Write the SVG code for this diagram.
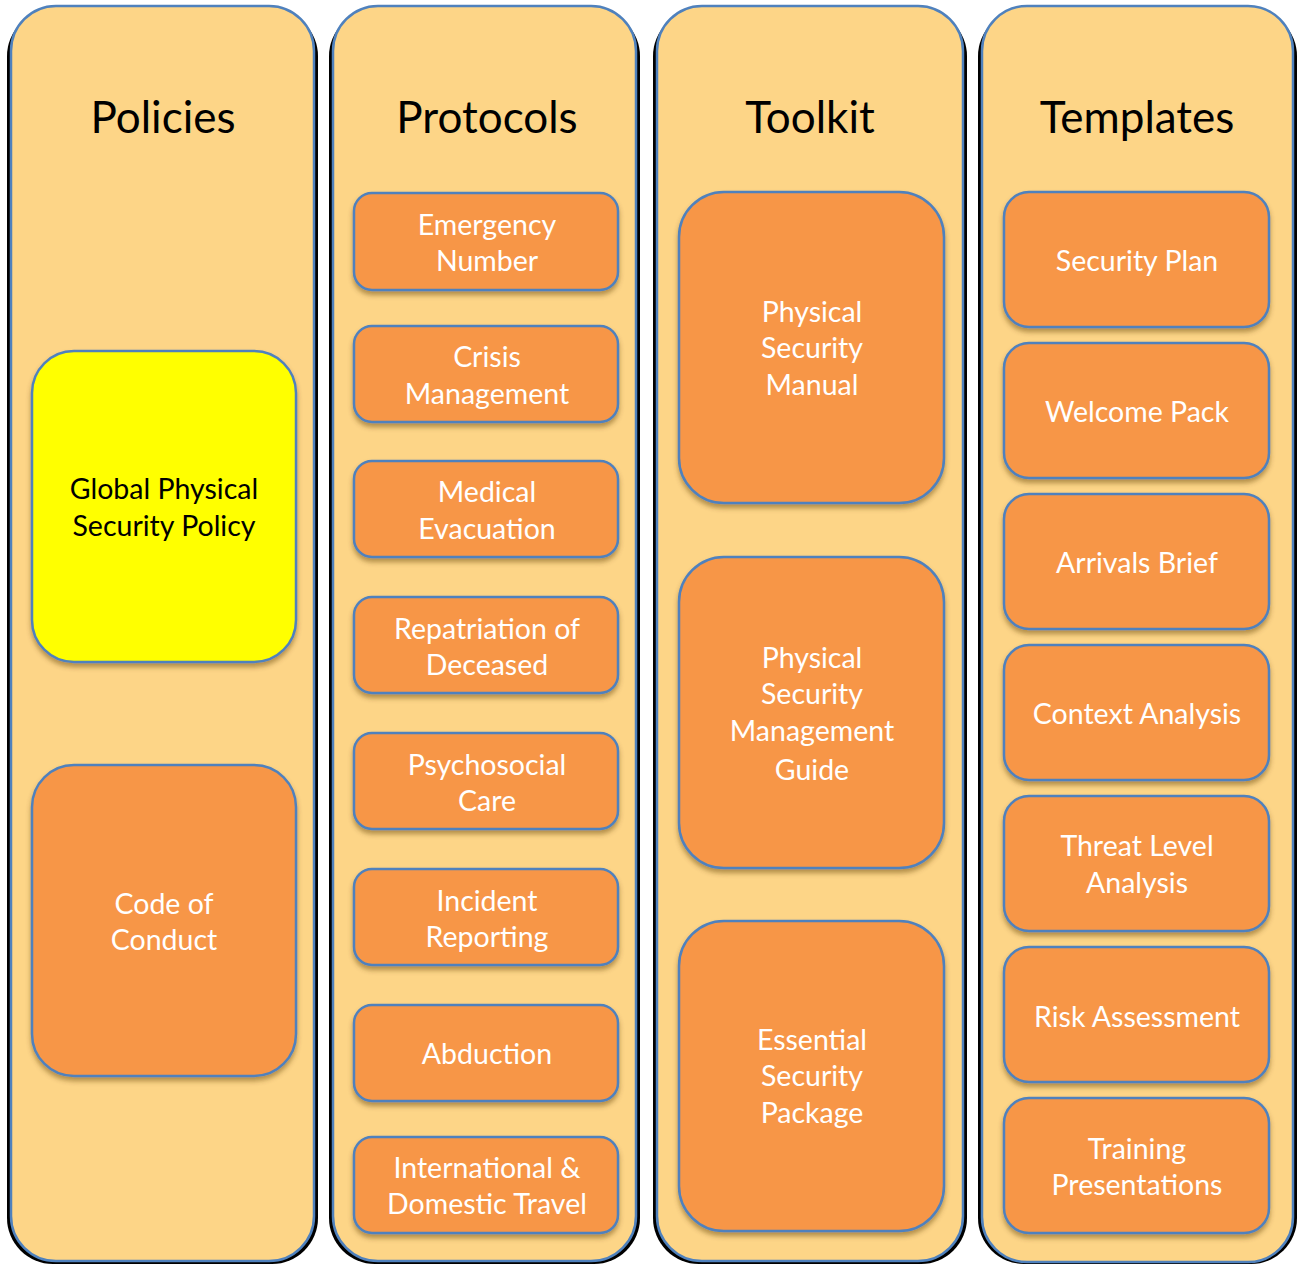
<svg xmlns="http://www.w3.org/2000/svg" width="1300" height="1265" viewBox="0 0 1300 1265">
<defs>
<filter id="ds" x="-10%" y="-10%" width="120%" height="125%">
<feDropShadow dx="0" dy="4" stdDeviation="2.5" flood-color="#5a3a00" flood-opacity="0.45"/>
</filter>
</defs>
<style>
.colsh{fill:#000}
.col{fill:#FDD587;stroke:#4F81BD;stroke-width:2.5}
.box{fill:#F79646;stroke:#4F81BD;stroke-width:2.5;filter:url(#ds)}
.ybox{fill:#FFFF00;stroke:#4F81BD;stroke-width:2.5;filter:url(#ds)}
.title{font-family:Lato,"Liberation Sans",sans-serif;font-size:44px;fill:#000;text-anchor:middle;dominant-baseline:central}
.t{font-family:Lato,"Liberation Sans",sans-serif;font-size:28.5px;fill:#fff;text-anchor:middle;dominant-baseline:central}
.tb{font-family:Lato,"Liberation Sans",sans-serif;font-size:28.5px;fill:#000;text-anchor:middle;dominant-baseline:central}
</style>
<rect width="1300" height="1265" fill="#fff"/>
<g id="columns">
<g id="col-policies">
<rect class="colsh" x="7" y="10" width="311" height="1254" rx="46"/>
<rect class="col" x="11" y="6" width="303" height="1255" rx="45"/>
<text class="title" x="163" y="116">Policies</text>
</g>
<g id="col-protocols">
<rect class="colsh" x="329" y="10" width="311" height="1254" rx="46"/>
<rect class="col" x="333" y="6" width="303" height="1255" rx="45"/>
<text class="title" x="487" y="116">Protocols</text>
</g>
<g id="col-toolkit">
<rect class="colsh" x="653" y="10" width="314" height="1254" rx="46"/>
<rect class="col" x="657" y="6" width="306" height="1255" rx="45"/>
<text class="title" x="810" y="116">Toolkit</text>
</g>
<g id="col-templates">
<rect class="colsh" x="978" y="10" width="319" height="1254" rx="46"/>
<rect class="col" x="982" y="6" width="311" height="1256" rx="45"/>
<text class="title" x="1137" y="116">Templates</text>
</g>
</g>
<g id="policies">
<g id="n-gpsp"><rect class="ybox" x="32" y="351" width="264" height="311" rx="42"/><text class="tb" x="164" y="488">Global Physical</text><text class="tb" x="164" y="525">Security Policy</text></g>
<g id="n-coc"><rect class="box" x="32" y="765" width="264" height="311" rx="42"/><text class="t" x="164" y="903">Code of</text><text class="t" x="164" y="939">Conduct</text></g>
</g>
<g id="protocols">
<g id="n-emerg"><rect class="box" x="354" y="193" width="264" height="97" rx="18"/><text class="t" x="487" y="224">Emergency</text><text class="t" x="487" y="260">Number</text></g>
<g id="n-crisis"><rect class="box" x="354" y="326" width="264" height="96" rx="18"/><text class="t" x="487" y="356">Crisis</text><text class="t" x="487" y="393">Management</text></g>
<g id="n-medevac"><rect class="box" x="354" y="461" width="264" height="96" rx="18"/><text class="t" x="487" y="491">Medical</text><text class="t" x="487" y="528">Evacuation</text></g>
<g id="n-repat"><rect class="box" x="354" y="597" width="264" height="96" rx="18"/><text class="t" x="487" y="628">Repatriation of</text><text class="t" x="487" y="664">Deceased</text></g>
<g id="n-psycho"><rect class="box" x="354" y="733" width="264" height="96" rx="18"/><text class="t" x="487" y="764">Psychosocial</text><text class="t" x="487" y="800">Care</text></g>
<g id="n-incident"><rect class="box" x="354" y="869" width="264" height="96" rx="18"/><text class="t" x="487" y="900">Incident</text><text class="t" x="487" y="936">Reporting</text></g>
<g id="n-abduct"><rect class="box" x="354" y="1005" width="264" height="96" rx="18"/><text class="t" x="487" y="1053">Abduction</text></g>
<g id="n-travel"><rect class="box" x="354" y="1137" width="264" height="96" rx="18"/><text class="t" x="487" y="1167">International &amp;</text><text class="t" x="487" y="1203">Domestic Travel</text></g>
</g>
<g id="toolkit">
<g id="n-psm"><rect class="box" x="679" y="192" width="265" height="311" rx="45"/><text class="t" x="812" y="311">Physical</text><text class="t" x="812" y="347">Security</text><text class="t" x="812" y="384">Manual</text></g>
<g id="n-psmg"><rect class="box" x="679" y="557" width="265" height="311" rx="45"/><text class="t" x="812" y="657">Physical</text><text class="t" x="812" y="693">Security</text><text class="t" x="812" y="730">Management</text><text class="t" x="812" y="769">Guide</text></g>
<g id="n-esp"><rect class="box" x="679" y="921" width="265" height="310" rx="45"/><text class="t" x="812" y="1039">Essential</text><text class="t" x="812" y="1075">Security</text><text class="t" x="812" y="1112">Package</text></g>
</g>
<g id="templates">
<g id="n-splan"><rect class="box" x="1004" y="192" width="265" height="135" rx="25"/><text class="t" x="1137" y="260">Security Plan</text></g>
<g id="n-welcome"><rect class="box" x="1004" y="343" width="265" height="135" rx="25"/><text class="t" x="1137" y="411">Welcome Pack</text></g>
<g id="n-arrivals"><rect class="box" x="1004" y="494" width="265" height="135" rx="25"/><text class="t" x="1137" y="562">Arrivals Brief</text></g>
<g id="n-context"><rect class="box" x="1004" y="645" width="265" height="135" rx="25"/><text class="t" x="1137" y="713">Context Analysis</text></g>
<g id="n-threat"><rect class="box" x="1004" y="796" width="265" height="135" rx="25"/><text class="t" x="1137" y="845">Threat Level</text><text class="t" x="1137" y="882">Analysis</text></g>
<g id="n-risk"><rect class="box" x="1004" y="947" width="265" height="135" rx="25"/><text class="t" x="1137" y="1016">Risk Assessment</text></g>
<g id="n-training"><rect class="box" x="1004" y="1098" width="265" height="135" rx="25"/><text class="t" x="1137" y="1148">Training</text><text class="t" x="1137" y="1184">Presentations</text></g>
</g>
<g id="connectors"/>
</svg>
